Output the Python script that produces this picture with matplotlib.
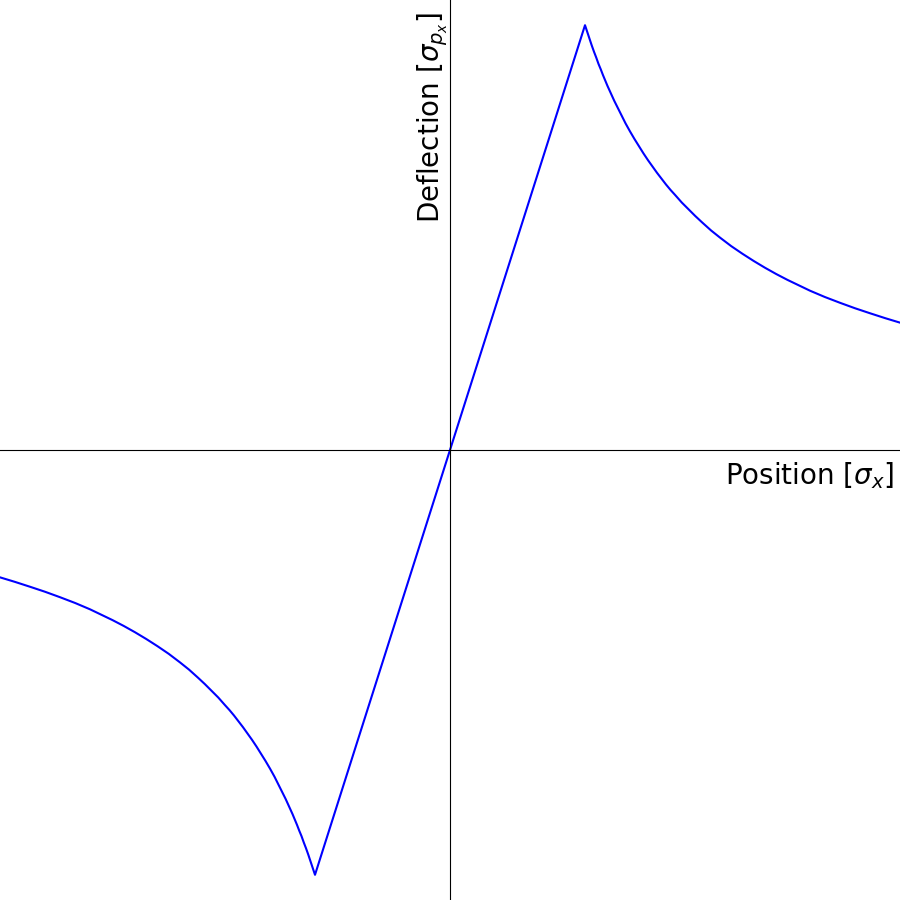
import matplotlib
matplotlib.use("Agg")
import matplotlib.pyplot as plt

# Positions (units of sigma_x) and deflections
x_right = [3.0, 3.05, 3.1, 3.15, 3.2, 3.25, 3.3, 3.35, 3.4, 3.45, 3.5, 3.55, 3.6, 3.65, 3.7, 3.8, 3.9,
           4.0, 4.1, 4.2, 4.3, 4.4, 4.5, 4.6, 4.7, 4.8, 4.9, 5.0, 5.15, 5.3, 5.45, 5.6, 5.8, 6.0, 6.25,
           6.5, 6.75, 7.0, 7.25, 7.5, 7.75, 8.0, 8.33, 8.67, 9.0, 9.33, 9.67, 10.0]
y_right = [9.44, 9.29, 9.14, 8.99, 8.85, 8.72, 8.58, 8.46, 8.33, 8.21, 8.09, 7.98, 7.87, 7.76, 7.66,
           7.46, 7.26, 7.08, 6.91, 6.75, 6.59, 6.44, 6.30, 6.16, 6.03, 5.90, 5.78, 5.67, 5.50, 5.35,
           5.20, 5.06, 4.88, 4.72, 4.53, 4.36, 4.20, 4.05, 3.91, 3.78, 3.66, 3.54, 3.40, 3.27, 3.15,
           3.04, 2.93, 2.83]
x_center = [-3.0, 0.0, 3.0]
y_center = [-9.44, 0.0, 9.44]

x_left = [-v for v in reversed(x_right)]
y_left = [-v for v in reversed(y_right)]

x_all = x_left + x_center[1:-1] + x_right
y_all = y_left + y_center[1:-1] + y_right

fig = plt.figure(figsize=(9, 9), dpi=100)
ax = fig.add_axes([0, 0, 1, 1])
ax.plot(x_all, y_all, color="blue", linewidth=1.5)
ax.set_xlim(-10, 10)
ax.set_ylim(-10, 10)

for s in ["top", "right"]:
    ax.spines[s].set_visible(False)
ax.spines["left"].set_position(("data", 0))
ax.spines["bottom"].set_position(("data", 0))
ax.spines["left"].set_linewidth(0.8)
ax.spines["bottom"].set_linewidth(0.8)
ax.set_xticks([])
ax.set_yticks([])

ax.text(0.4995, 0.987, r"Deflection [$\sigma_{p_x}$]", transform=ax.transAxes,
        rotation=90, ha="right", va="top", fontsize=20)
ax.text(0.993, 0.489, r"Position [$\sigma_x$]", transform=ax.transAxes,
        ha="right", va="top", fontsize=20)

fig.savefig("out.png", dpi=100)
